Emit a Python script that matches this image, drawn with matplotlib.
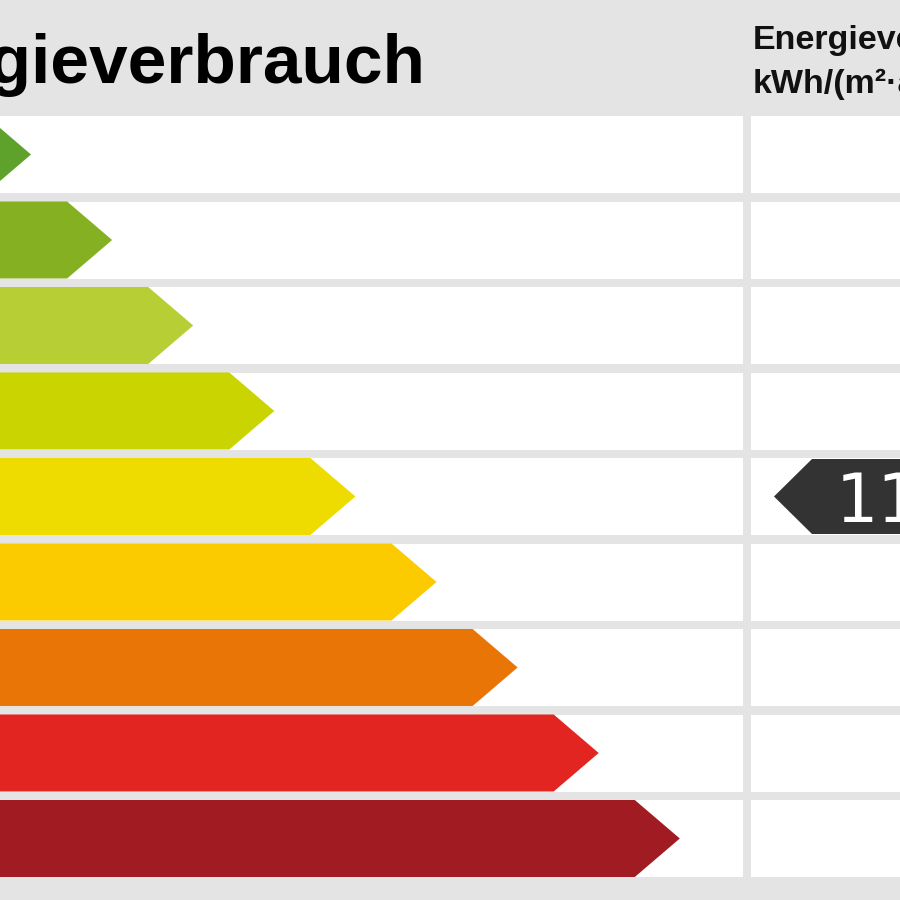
import matplotlib.pyplot as plt
from matplotlib.patches import Polygon, Rectangle

# energy classes (German Energieausweis), upper limits in kWh/(m²·a)
classes = ['A+', 'A', 'B', 'C', 'D', 'E', 'F', 'G', 'H']
limits = [30, 50, 75, 100, 130, 160, 200, 250, None]
colors = ['#5ea12b', '#85b022', '#b7ce34', '#cad400', '#eedc00',
          '#fbcb00', '#ea7507', '#e32522', '#a11b22']
value = 115
title = 'Energieverbrauch'
head_right = ['Energieverbrauchskennwert', 'kWh/(m²·a)']

bg = '#e4e4e4'
font = 'Liberation Sans'

fig = plt.figure(figsize=(9, 9), dpi=100)
fig.patch.set_facecolor(bg)
ax = fig.add_axes([0, 0, 1, 1])
ax.set_xlim(0, 900)
ax.set_ylim(900, 0)
ax.axis('off')

row_top = 116
row_pitch = 85.5
row_h = 77
col_split = 743
gap = 8

def class_of(v):
    for i, lim in enumerate(limits):
        if lim is None or v < lim:
            return i
    return len(limits) - 1

for i, (cls, c) in enumerate(zip(classes, colors)):
    top = row_top + i * row_pitch
    ax.add_patch(Rectangle((-10, top), col_split + 10, row_h, fc='white', ec='none'))
    ax.add_patch(Rectangle((col_split + gap, top), 300, row_h, fc='white', ec='none'))
    tip = 31 + i * 81.1
    mid = top + row_h / 2
    ax.add_patch(Polygon([(-100, top), (tip - 45, top), (tip, mid),
                          (tip - 45, top + row_h), (-100, top + row_h)],
                         closed=True, fc=c, ec='none'))
    # class letters sit left of the visible crop
    ax.text(-60, mid, cls, color='white', fontsize=30, fontweight='bold',
            family=font, ha='center', va='center')

# marker for the actual value
k = class_of(value)
top = row_top + k * row_pitch
mid = top + row_h / 2
ax.add_patch(Polygon([(774, mid), (812, top + 1), (1000, top + 1),
                      (1000, top + row_h - 1), (812, top + row_h - 1)],
                     closed=True, fc='#333333', ec='none'))
ax.text(836, mid + 25.5, str(value), color='white', fontsize=48,
        family='DejaVu Sans', ha='left', va='baseline')

ax.text(425, 83, title, fontsize=50, fontweight='bold', family=font,
        ha='right', va='baseline', color='black')
ax.text(753, 49, head_right[0], fontsize=24.5, fontweight='bold', family=font,
        ha='left', va='baseline', color='#111111')
ax.text(753, 93, head_right[1], fontsize=24.5, fontweight='bold', family=font,
        ha='left', va='baseline', color='#111111')

fig.savefig('out.png', dpi=100, facecolor=bg)
